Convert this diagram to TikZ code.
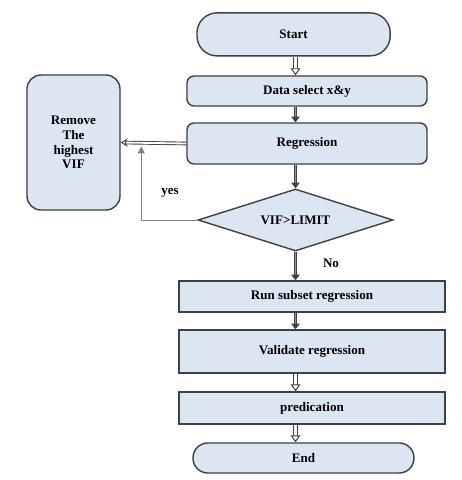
\documentclass[tikz,border=0pt]{standalone}
\usepackage{fontspec}
\setmainfont{Liberation Serif}
\usetikzlibrary{shapes.geometric, arrows.meta, positioning, calc}
\definecolor{boxblue}{RGB}{220, 230, 242}
\definecolor{edgegray}{RGB}{64, 64, 64}
\definecolor{shaftgray}{RGB}{150, 150, 150}
\definecolor{loopgray}{RGB}{130, 130, 130}
\tikzset{
  basebox/.style    = {draw=edgegray, fill=boxblue, line width=1pt, align=center, font=\fontsize{9.3}{10.5}\selectfont\bfseries},
  termbox/.style    = {basebox, rectangle, rounded corners=0.5cm},
  procbox/.style    = {basebox, rectangle, rounded corners=5pt},
  sqbox/.style      = {basebox, rectangle},
  decbox/.style     = {basebox, diamond, aspect=3.1, inner sep=0pt},
  flowdark/.style   = {-{Triangle[length=4pt, width=6pt]}, draw=edgegray, line width=0.6pt, double=shaftgray, double distance=1.4pt},
  flowhollow/.style = {-{Triangle[open, length=5pt, width=7pt, line width=0.7pt]}, draw=edgegray, line width=0.7pt, double=white, double distance=1.8pt},
  backflow/.style   = {-{Stealth[open, length=5pt, width=6pt, line width=0.6pt]}, draw=edgegray, line width=0.65pt, double=white, double distance=1.3pt},
  yesline/.style    = {-{Triangle[length=5pt, width=5pt]}, draw=loopgray, line width=0.6pt},
  lbl/.style        = {font=\fontsize{9.3}{10.5}\selectfont\bfseries},
}
\begin{document}
\begin{tikzpicture}
  \useasboundingbox (0,0) rectangle (11.55,12);
  \fill[white] (0,0) rectangle (11.55,12);

  \node[termbox, minimum width=4.83cm, minimum height=1.075cm] (start) at (7.34,11.14) {Start};
  \node[procbox, minimum width=6cm, minimum height=0.75cm] (data) at (7.675,9.725) {Data select x\&y};
  \node[procbox, minimum width=6cm, minimum height=1.025cm] (reg) at (7.675,8.4125) {Regression};
  \node[procbox, minimum width=2.325cm, minimum height=3.375cm, rounded corners=10pt] (remove) at (1.8375,8.4375) {Remove\\The\\highest\\VIF};
  \node[decbox, minimum width=4.875cm, minimum height=1.55cm] (dec) at (7.3875,6.5) {VIF>LIMIT};
  \node[sqbox, minimum width=6.65cm, minimum height=0.775cm] (run) at (7.8,4.5875) {Run subset regression};
  \node[sqbox, minimum width=6.65cm, minimum height=1.075cm] (val) at (7.8,3.2125) {Validate regression};
  \node[sqbox, minimum width=6.65cm, minimum height=0.8cm] (pred) at (7.8,1.8) {predication};
  \node[termbox, minimum width=5.525cm, minimum height=0.75cm, rounded corners=0.37cm] (end) at (7.5875,0.55) {End};

  % main flow
  \draw[flowhollow] (start.south -| dec) -- (data.north -| dec);
  \draw[flowdark] (data.south -| dec) -- (reg.north -| dec);
  \draw[flowdark] (reg.south -| dec) -- (dec.north);
  \draw[flowdark] (dec.south) -- (run.north -| dec);
  \draw[flowdark] (run.south -| dec) -- (val.north -| dec);
  \draw[flowhollow] (val.south -| dec) -- (pred.north -| dec);
  \draw[flowhollow] (pred.south -| dec) -- (end.north -| dec);

  % loop back
  \path (reg.west) ++(-1.125,0) coordinate (jn);
  \draw[backflow] (reg.west) -- (remove.east);
  \draw[yesline] (dec.west) -| ([yshift=-2pt]jn);
  \node[lbl] (yes) at (4.25,7.175) {yes};
  \node[lbl] (no) at (8.275,5.425) {No};
\end{tikzpicture}
\end{document}
